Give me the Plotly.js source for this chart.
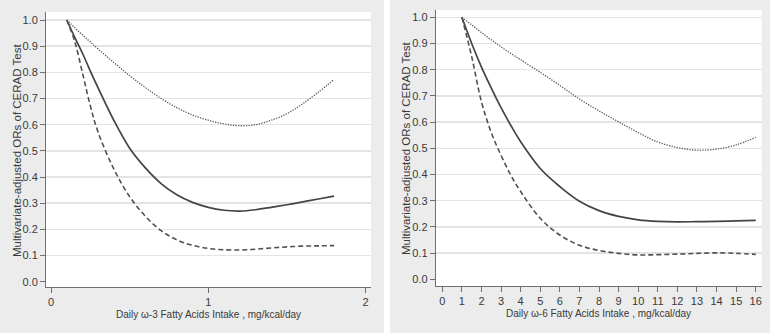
<!DOCTYPE html>
<html>
<head>
<meta charset="utf-8">
<script src="https://cdn.plot.ly/plotly-3.0.1.min.js"></script>
<style>html,body{margin:0;padding:0;background:#fff;}#chart{width:770px;height:333px;}</style>
</head>
<body>
<div id="chart"></div>
<script>
// ---- Left panel: omega-3 ----
const w3X = [0.1, 0.15, 0.2, 0.25, 0.3, 0.4, 0.5, 0.6, 0.7, 0.8, 0.9, 1.0, 1.1, 1.2, 1.3, 1.4, 1.5, 1.6, 1.7, 1.8];
const w3Or = [1.0, 0.935, 0.873, 0.805, 0.74, 0.616, 0.51, 0.435, 0.375, 0.332, 0.303, 0.284, 0.273, 0.270, 0.275, 0.284, 0.294, 0.305, 0.316, 0.327];
const w3Lower = [1.0, 0.92, 0.798, 0.672, 0.57, 0.43, 0.325, 0.25, 0.195, 0.16, 0.139, 0.127, 0.122, 0.121, 0.124, 0.129, 0.133, 0.136, 0.137, 0.138];
const w3Upper = [1.0, 0.971, 0.943, 0.916, 0.889, 0.837, 0.787, 0.742, 0.70, 0.665, 0.637, 0.617, 0.603, 0.596, 0.600, 0.617, 0.642, 0.68, 0.724, 0.773];

// ---- Right panel: omega-6 ----
const w6X = [1, 1.5, 2, 2.5, 3, 3.5, 4, 5, 6, 7, 8, 9, 10, 11, 12, 13, 14, 15, 16];
const w6Or = [1.0, 0.9, 0.81, 0.73, 0.655, 0.587, 0.525, 0.423, 0.354, 0.298, 0.262, 0.24, 0.227, 0.221, 0.219, 0.220, 0.221, 0.223, 0.225];
const w6Lower = [1.0, 0.85, 0.677, 0.56, 0.473, 0.397, 0.335, 0.233, 0.169, 0.13, 0.11, 0.099, 0.093, 0.094, 0.096, 0.099, 0.101, 0.099, 0.095];
const w6Upper = [1.0, 0.971, 0.942, 0.914, 0.887, 0.862, 0.838, 0.79, 0.74, 0.688, 0.643, 0.601, 0.56, 0.524, 0.503, 0.493, 0.497, 0.513, 0.542];

const yTicks = [0, 0.1, 0.2, 0.3, 0.4, 0.5, 0.6, 0.7, 0.8, 0.9, 1.0];
const yTickText = ['0.0', '0.1', '0.2', '0.3', '0.4', '0.5', '0.6', '0.7', '0.8', '0.9', '1.0'];
const w3Ticks = [0, 1, 2];
const w6Ticks = [0, 1, 2, 3, 4, 5, 6, 7, 8, 9, 10, 11, 12, 13, 14, 15, 16];

const yTitle = 'Multivariate-adjusted ORs of CERAD Test';
const w3Title = 'Daily \u03c9-3 Fatty Acids Intake , mg/kcal/day';
const w6Title = 'Daily \u03c9-6 Fatty Acids Intake , mg/kcal/day';

const FONT = "'Liberation Sans', Arial, sans-serif";
const solid = {color: '#444444', width: 1.7, shape: 'spline'};
const dashed = {color: '#505050', width: 1.6, dash: '5px,3px', shape: 'spline'};
const dotted = {color: '#5a5a5a', width: 1.3, dash: '1.3px,1.3px', shape: 'spline'};

function tr(x, y, line, xa, ya) {
  return {x: x, y: y, mode: 'lines', line: line, xaxis: xa, yaxis: ya, hoverinfo: 'skip', showlegend: false};
}
const data = [
  tr(w3X, w3Upper, dotted, 'x', 'y'),
  tr(w3X, w3Or, solid, 'x', 'y'),
  tr(w3X, w3Lower, dashed, 'x', 'y'),
  tr(w6X, w6Upper, dotted, 'x2', 'y2'),
  tr(w6X, w6Or, solid, 'x2', 'y2'),
  tr(w6X, w6Lower, dashed, 'x2', 'y2')
];

const W = 770, H = 333;
const axisCommon = {
  showline: true, linecolor: '#707070', linewidth: 1,
  ticks: 'outside', ticklen: 5, tickcolor: '#707070', tickwidth: 1,
  tickfont: {family: FONT, size: 11, color: '#3a3a3a'},
  fixedrange: true
};
const yCommon = Object.assign({}, axisCommon, {
  tickvals: yTicks, ticktext: yTickText, showgrid: true, gridcolor: '#e4e4e4', gridwidth: 1.5,
  zeroline: true, zerolinecolor: '#ffffff', zerolinewidth: 1
});
const xCommon = Object.assign({}, axisCommon, {showgrid: false, zeroline: false});

const titleFontX = {family: FONT, size: 10, color: '#3a3a3a'};
const titleFontY = {family: FONT, size: 11.5, color: '#3a3a3a'};

const layout = {
  width: W, height: H,
  margin: {l: 0, r: 0, t: 0, b: 0},
  paper_bgcolor: '#ececec',
  plot_bgcolor: '#ffffff',
  showlegend: false,
  xaxis: Object.assign({}, xCommon, {domain: [46 / W, 371 / W], range: [-0.0318, 2.0343], tickvals: w3Ticks, anchor: 'y'}),
  yaxis: Object.assign({}, yCommon, {domain: [(H - 287) / H, (H - 12) / H], range: [-0.0203, 1.0306], anchor: 'x'}),
  xaxis2: Object.assign({}, xCommon, {domain: [435.7 / W, 761.7 / W], range: [-0.337, 16.304], tickvals: w6Ticks, anchor: 'y2'}),
  yaxis2: Object.assign({}, yCommon, {domain: [(H - 286) / H, (H - 10) / H], range: [-0.0256, 1.0279], anchor: 'x2'}),
  shapes: [
    {type: 'rect', xref: 'paper', yref: 'paper', x0: 384 / W, x1: 390 / W, y0: 0, y1: 1, fillcolor: '#ffffff', line: {width: 0}, layer: 'below'}
  ],
  annotations: [
    {text: w3Title, xref: 'paper', yref: 'paper', x: 208.5 / W, y: (H - 314) / H, xanchor: 'center', yanchor: 'middle', showarrow: false, font: titleFontX},
    {text: w6Title, xref: 'paper', yref: 'paper', x: 598.6 / W, y: (H - 313) / H, xanchor: 'center', yanchor: 'middle', showarrow: false, font: titleFontX},
    {text: yTitle, xref: 'paper', yref: 'paper', x: 17 / W, y: (H - 151) / H, xanchor: 'center', yanchor: 'middle', textangle: -90, showarrow: false, font: titleFontY},
    {text: yTitle, xref: 'paper', yref: 'paper', x: 406.7 / W, y: (H - 148.3) / H, xanchor: 'center', yanchor: 'middle', textangle: -90, showarrow: false, font: titleFontY}
  ]
};

Plotly.newPlot('chart', data, layout, {displayModeBar: false, staticPlot: true});
</script>
</body>
</html>
